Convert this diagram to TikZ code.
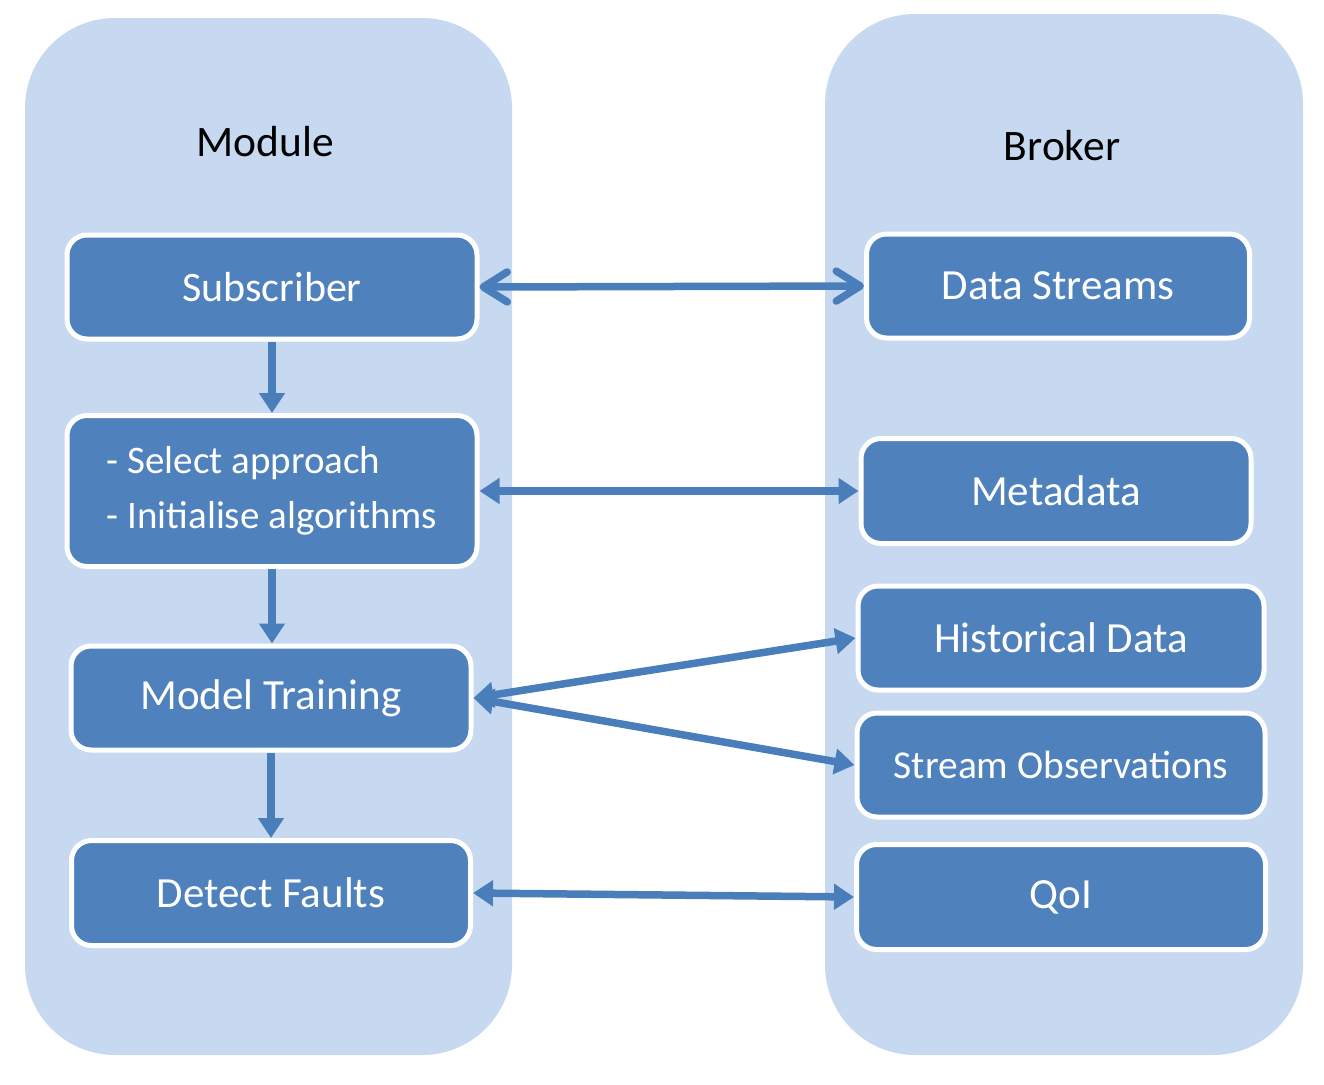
\documentclass[tikz,border=0pt]{standalone}
\usepackage{fontspec}
\setmainfont{Carlito}
\usetikzlibrary{arrows.meta}
\definecolor{panelblue}{HTML}{C6D9F1}
\definecolor{boxblue}{HTML}{4F81BD}
\definecolor{arrowblue}{HTML}{4A7EBB}
\begin{document}
\begin{tikzpicture}[x=1pt,y=-1pt,
  box/.style={draw=white,line width=5pt,fill=boxblue,rounded corners=20pt,text=white,
    font=\fontsize{43}{55}\selectfont,minimum height=104pt},
  title/.style={font=\fontsize{43.5}{50}\selectfont},
  link/.style={draw=arrowblue,line width=7.5pt,{Triangle[length=20pt,width=25pt]}-{Triangle[length=20pt,width=25pt]}},
  flow/.style={draw=arrowblue,line width=7.5pt,-{Triangle[length=20pt,width=25pt]}}]
\useasboundingbox (0,0) rectangle (1324,1084);
\fill[panelblue,rounded corners=90pt] (25,18) rectangle (512,1055);
\fill[panelblue,rounded corners=90pt] (825,14) rectangle (1303,1055);
\node[title] (module) at (265,142) {Module};
\node[title] (broker) at (1062,146) {Broker};
\node[box,minimum width=410pt,font=\fontsize{42}{50}\selectfont] (sub) at (272,287) {Subscriber};
\node[box,minimum width=410pt,minimum height=151pt,align=left,font=\fontsize{39}{55}\selectfont] (sel) at (272,491) {- Select approach\\- Initialise algorithms};
\node[box,minimum width=400pt] (train) at (271,698) {Model Training};
\node[box,minimum width=399pt,minimum height=105pt] (detect) at (271,893) {Detect Faults};
\node[box,minimum width=383pt] (streams) at (1058,286) {Data Streams};
\node[box,minimum width=390pt,minimum height=105pt] (meta) at (1056,491) {Metadata};
\node[box,minimum width=406pt] (hist) at (1061,638) {Historical Data};
\node[box,minimum width=408pt,font=\fontsize{39.5}{45}\selectfont] (obs) at (1061,765) {Stream Observations};
\node[box,minimum width=409pt,minimum height=105pt] (qoi) at (1061,897) {QoI};
\draw[draw=arrowblue,line width=7.5pt,{Straight Barb[length=24pt,width=30pt,round]}-{Straight Barb[length=24pt,width=30pt,round]}] (sub.east) -- (streams.west);
\draw[link] (sel.east) -- (meta.west);
\draw[link] (train.east) -- (hist.west);
\draw[link] (train.east) -- (obs.west);
\draw[link] (detect.east) -- (qoi.west);
\draw[flow] (sub.south) -- (sel.north);
\draw[flow] (sel.south) -- (sel.south |- train.north);
\draw[flow] (train.south) -- (train.south |- detect.north);
\end{tikzpicture}
\end{document}
